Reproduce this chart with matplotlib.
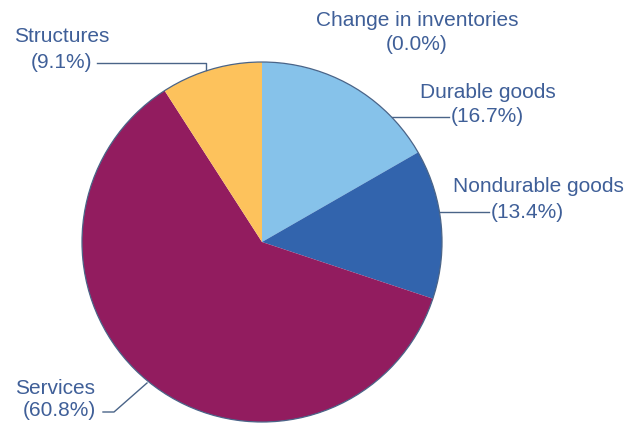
import matplotlib.pyplot as plt

# GDP components (share of total, %), clockwise from 12 o'clock
labels = ["Durable goods", "Nondurable goods", "Services", "Structures", "Change in inventories"]
shares = [16.7, 13.4, 60.8, 9.1, 0.0]
colors = ["#86c2ea", "#3264ad", "#921c5f", "#fdc25c", "#ffffff"]

TEXT = "#3f5f98"
LINE = "#4a6488"


def main():
    fig = plt.figure(figsize=(6.26, 4.26), dpi=100)
    ax = fig.add_axes([0, 0, 1, 1])

    H = 426
    cx, cy, r = 262, H - 242, 180
    ax.pie(shares, colors=colors, startangle=90, counterclock=False,
           center=(cx, cy), radius=r, frame=True,
           wedgeprops=dict(edgecolor="none"))
    circ = plt.Circle((cx, cy), r, fill=False, edgecolor=LINE, linewidth=0.9)
    ax.add_patch(circ)
    ax.set_xlim(0, 626)
    ax.set_ylim(0, 426)
    ax.set_aspect("equal")
    ax.axis("off")

    fs = 15
    font = dict(family="Liberation Sans", fontsize=fs, color=TEXT)

    # Structures
    ax.text(62, H - 36, "Structures", ha="center", va="center", **font)
    ax.text(61, H - 62, "(9.1%)", ha="center", va="center", **font)
    ax.plot([97, 206, 206], [H - 63, H - 63, H - 70], color=LINE, lw=1)

    # Change in inventories
    ax.text(417, H - 20, "Change in inventories", ha="center", va="center", **font)
    ax.text(417, H - 45, "(0.0%)", ha="center", va="center", **font)

    # Durable goods
    ax.text(488, H - 92, "Durable goods", ha="center", va="center", **font)
    ax.text(451, H - 117, "(16.7%)", ha="left", va="center", **font)
    ax.plot([392, 449], [H - 117, H - 117], color=LINE, lw=1)

    # Nondurable goods
    ax.text(538, H - 186, "Nondurable goods", ha="center", va="center", **font)
    ax.text(491, H - 212, "(13.4%)", ha="left", va="center", **font)
    ax.plot([440, 489], [H - 212, H - 212], color=LINE, lw=1)

    # Services
    ax.text(55, H - 388, "Services", ha="center", va="center", **font)
    ax.text(59, H - 411, "(60.8%)", ha="center", va="center", **font)
    ax.plot([103, 114, 147], [H - 412, H - 412, H - 383], color=LINE, lw=1)

    fig.savefig("out.png", dpi=100)


if __name__ == "__main__":
    main()
